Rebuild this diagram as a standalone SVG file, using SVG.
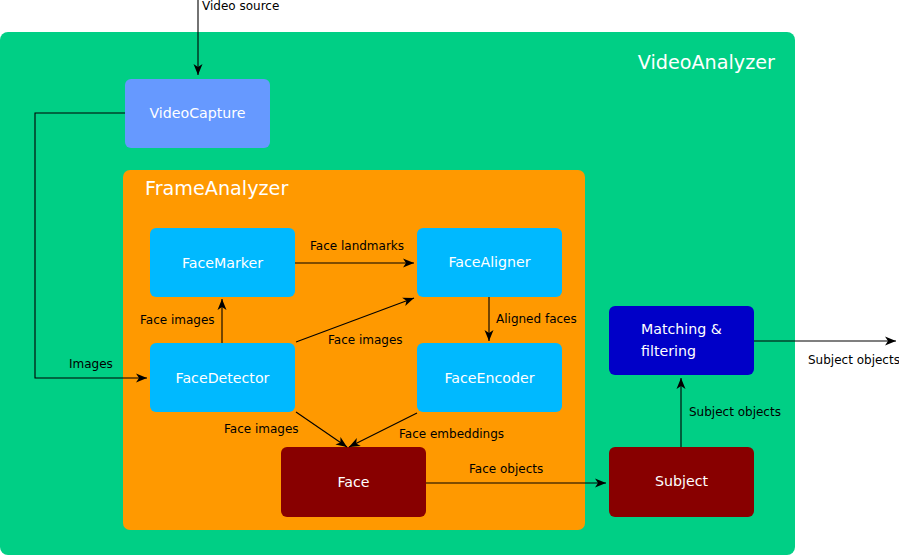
<svg xmlns="http://www.w3.org/2000/svg" width="899" height="556" viewBox="0 0 899 556">
<defs>
<style>
text{font-family:"DejaVu Sans","Liberation Sans",sans-serif}
.lbl{font-size:14.2px;fill:#fff;text-anchor:middle}
.cl{font-size:12px;fill:#000}
.title{font-size:19.2px;fill:#fff}
.blue{fill:#00b9ff}
.dark{fill:#880000}
.conn{fill:none;stroke:#000;stroke-width:1.1;marker-end:url(#arr)}
</style>
<marker id="arr" viewBox="-12 -5 13 10" refX="0" refY="0" markerWidth="13" markerHeight="10" markerUnits="userSpaceOnUse" orient="auto">
<path d="M0,0 L-11,-4.5 L-8,0 L-11,4.5 z" fill="#000"/>
</marker>
</defs>
<g id="VideoAnalyzer">
<rect x="0" y="32" width="795" height="523" rx="8" fill="#00cf85"/>
<text class="title" x="775" y="69" text-anchor="end">VideoAnalyzer</text>
</g>
<g id="FrameAnalyzer">
<rect x="123" y="170" width="462" height="360" rx="7" fill="#ff9900"/>
<text class="title" x="145" y="195">FrameAnalyzer</text>
</g>
<g id="VideoCapture">
<rect x="125" y="79" width="145" height="69" rx="6" fill="#6699ff"/>
<text class="lbl" x="197.5" y="118">VideoCapture</text>
</g>
<g id="FaceMarker">
<rect class="blue" x="150" y="228" width="145" height="69" rx="6"/>
<text class="lbl" x="222.5" y="268">FaceMarker</text>
</g>
<g id="FaceAligner">
<rect class="blue" x="417" y="228" width="145" height="69" rx="6"/>
<text class="lbl" x="489.5" y="267">FaceAligner</text>
</g>
<g id="FaceDetector">
<rect class="blue" x="150" y="343" width="145" height="69" rx="6"/>
<text class="lbl" x="222.5" y="383">FaceDetector</text>
</g>
<g id="FaceEncoder">
<rect class="blue" x="417" y="343" width="145" height="69" rx="6"/>
<text class="lbl" x="489.5" y="383">FaceEncoder</text>
</g>
<g id="Face">
<rect class="dark" x="281" y="447" width="145" height="70" rx="6"/>
<text class="lbl" x="353.5" y="487">Face</text>
</g>
<g id="Subject">
<rect class="dark" x="609" y="447" width="145" height="70" rx="6"/>
<text class="lbl" x="681.5" y="486">Subject</text>
</g>
<g id="Matching">
<rect x="609" y="306" width="145" height="69" rx="6" fill="#0000c8"/>
<text x="641" y="334" style="font-size:14.2px;fill:#fff">Matching &amp;</text>
<text x="641" y="356" style="font-size:14.2px;fill:#fff">filtering</text>
</g>
<g id="connectors">
<path class="conn" d="M198,0 V75"/>
<path class="conn" d="M125,113 H35 V378 H147"/>
<path class="conn" d="M222,343 V299"/>
<path class="conn" d="M295,263 H414"/>
<path class="conn" d="M296,342 L414,298"/>
<path class="conn" d="M489,297 V341"/>
<path class="conn" d="M296,412 L347,447"/>
<path class="conn" d="M417,413 L349,447"/>
<path class="conn" d="M426,483 H606"/>
<path class="conn" d="M681,447 V378"/>
<path class="conn" d="M754,341 H896"/>
<text class="cl" x="202" y="10">Video source</text>
<text class="cl" x="69" y="368">Images</text>
<text class="cl" x="140" y="324">Face images</text>
<text class="cl" x="310" y="250">Face landmarks</text>
<text class="cl" x="328" y="344">Face images</text>
<text class="cl" x="496" y="323">Aligned faces</text>
<text class="cl" x="224" y="433">Face images</text>
<text class="cl" x="399" y="438">Face embeddings</text>
<text class="cl" x="469" y="473">Face objects</text>
<text class="cl" x="689" y="416">Subject objects</text>
<text class="cl" x="808" y="364">Subject objects</text>
</g>
</svg>
